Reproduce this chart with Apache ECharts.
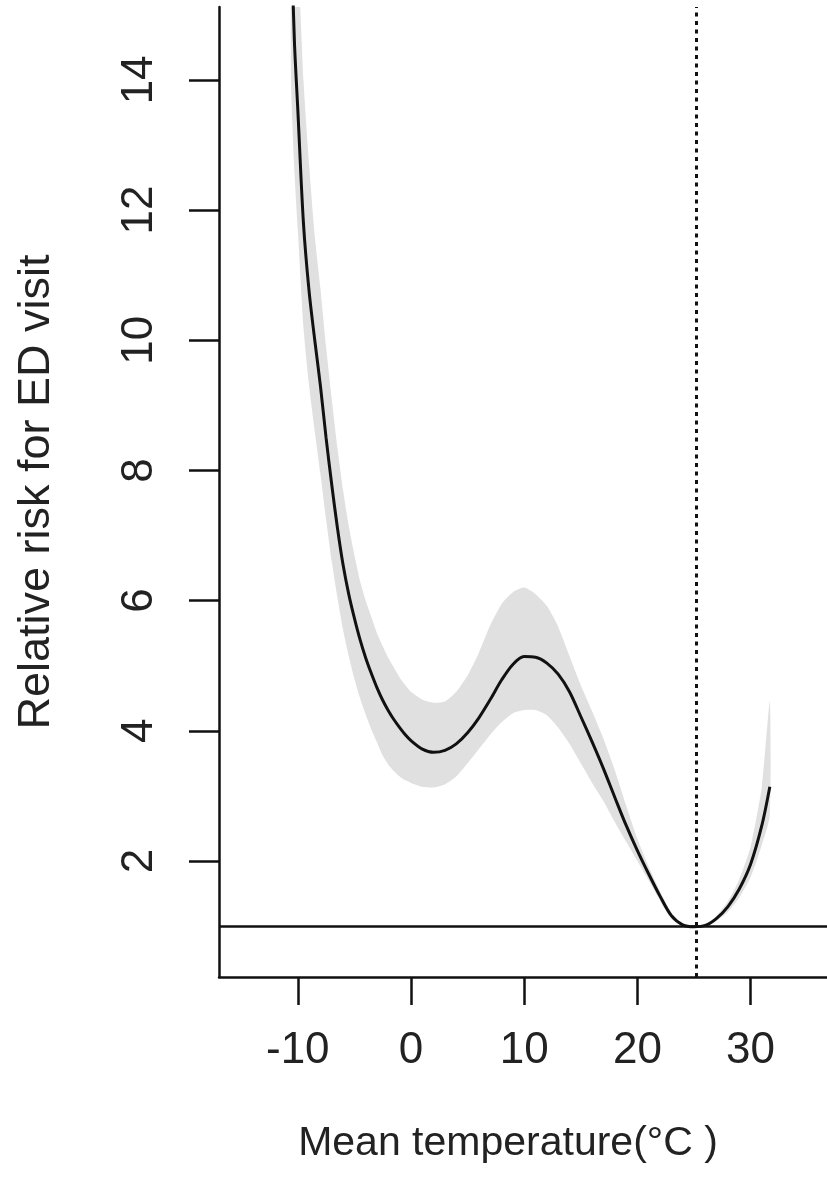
<!DOCTYPE html>
<html>
<head>
<meta charset="utf-8">
<script src="https://cdn.jsdelivr.net/npm/echarts@6/dist/echarts.min.js"></script>
<style>
  html, body { margin: 0; padding: 0; background: #fff; }
  #chart { width: 827px; height: 1188px; }
</style>
</head>
<body>
<div id="chart"></div>
<script>
// mean temperature (°C)
const temps = [-10.6, -10.3, -10, -9.5, -9, -8.5, -8, -7.5, -7, -6.5, -6, -5.5, -5, -4.5, -4, -3.5, -3, -2.5, -2, -1.5, -1, -0.5,
  0, 1, 2, 3, 4, 5, 6, 7, 8, 9, 10, 11, 12, 13, 14, 15, 16, 17, 18, 19, 20, 21, 22, 23, 24, 25, 26, 27, 28, 29, 30, 31, 31.7];
// relative risk (estimate)
const rr = [16.3, 14.6, 13.55, 11.8, 10.75, 10.0, 9.3, 8.5, 7.78, 7.12, 6.55, 6.1, 5.73, 5.4, 5.12, 4.88, 4.66, 4.47, 4.31, 4.17, 4.05, 3.94,
  3.85, 3.72, 3.67, 3.7, 3.8, 3.97, 4.2, 4.48, 4.78, 5.02, 5.14, 5.13, 5.04, 4.87, 4.6, 4.22, 3.83, 3.42, 2.98, 2.55, 2.16, 1.8, 1.46, 1.16, 1.02, 0.99, 1.01, 1.12, 1.3, 1.57, 1.95, 2.55, 3.14];
// 95% CI lower / upper
const rrLow = [14.0, 12.6, 11.7, 10.2, 9.3, 8.6, 7.95, 7.25, 6.6, 6.05, 5.55, 5.15, 4.8, 4.5, 4.25, 4.02, 3.82, 3.62, 3.48, 3.38, 3.3, 3.24,
  3.2, 3.14, 3.13, 3.18, 3.3, 3.5, 3.72, 3.94, 4.13, 4.27, 4.32, 4.32, 4.24, 4.05, 3.8, 3.5, 3.2, 2.92, 2.6, 2.3, 2.0, 1.7, 1.39, 1.11, 1.0, 0.99, 1.0, 1.08, 1.22, 1.44, 1.75, 2.25, 2.7];
const rrHigh = [18.5, 17.0, 16.0, 14.0, 12.7, 11.6, 10.8, 9.9, 9.1, 8.35, 7.7, 7.15, 6.7, 6.3, 6.0, 5.75, 5.5, 5.3, 5.12, 4.97, 4.82, 4.7,
  4.6, 4.48, 4.43, 4.45, 4.6, 4.85, 5.2, 5.62, 5.95, 6.13, 6.2, 6.1, 5.92, 5.6, 5.15, 4.7, 4.3, 3.88, 3.4, 2.86, 2.34, 1.91, 1.53, 1.21, 1.04, 1.0, 1.02, 1.16, 1.38, 1.72, 2.22, 3.15, 4.45];

const xTicks = [-10, 0, 10, 20, 30];
const yTicks = [2, 4, 6, 8, 10, 12, 14];
const refRisk = 1;
const mmt = 25.2;

const chart = echarts.init(document.getElementById('chart'));

const font = 'Liberation Sans, Arial, sans-serif';
const ink = '#111';

// 置信区间: 整条带画成一个多边形 (只在第一个数据项上画)
const renderBand = (params, api) => {
  if (params.dataIndex !== 0) return null;
  const upper = temps.map((t, i) => api.coord([t, rrHigh[i]]));
  const lower = temps.map((t, i) => api.coord([t, rrLow[i]])).reverse();
  return {
    type: 'polygon',
    shape: { points: upper.concat(lower), smooth: 0.2 },
    style: { fill: '#e0e0e0', stroke: null },
    clipPath: {
      type: 'rect',
      shape: { x: params.coordSys.x, y: params.coordSys.y, width: params.coordSys.width, height: params.coordSys.height }
    }
  };
};

chart.setOption({
  animation: false,
  backgroundColor: '#fff',
  grid: { left: 219, right: 0, top: 7, bottom: 211, containLabel: false },
  xAxis: {
    type: 'value',
    min: -16.96,
    max: 36.75,
    name: 'Mean temperature(°C )',
    nameLocation: 'middle',
    nameGap: 146,
    nameTextStyle: { fontFamily: font, fontSize: 41, color: '#222', padding: [0, 30, 0, 0] },
    axisLine: { show: true, onZero: false, lineStyle: { color: ink, width: 2.5 } },
    axisTick: { show: true, length: 28, customValues: xTicks, lineStyle: { color: ink, width: 2.5 } },
    axisLabel: { customValues: xTicks, margin: 52, fontFamily: font, fontSize: 44, color: '#222' },
    splitLine: { show: false }
  },
  yAxis: {
    type: 'value',
    min: 0.218,
    max: 15.12,
    name: 'Relative risk for ED visit',
    nameLocation: 'middle',
    nameGap: 160,
    nameTextStyle: { fontFamily: font, fontSize: 45, color: '#222' },
    axisLine: { show: true, onZero: false, lineStyle: { color: ink, width: 2.5 } },
    axisTick: { show: true, length: 30, customValues: yTicks, lineStyle: { color: ink, width: 2.5 } },
    axisLabel: { customValues: yTicks, rotate: 90, margin: 57, fontFamily: font, fontSize: 44, color: '#222' },
    splitLine: { show: false }
  },
  series: [
    {
      name: 'ci',
      type: 'custom',
      renderItem: renderBand,
      data: temps.map((t, i) => [t, rrLow[i], rrHigh[i]]),
      encode: { x: 0, y: [1, 2] },
      clip: true,
      silent: true,
      z: 1
    },
    {
      name: 'rr',
      type: 'line',
      data: temps.map((t, i) => [t, rr[i]]),
      symbol: 'none',
      smooth: 0.3,
      lineStyle: { color: ink, width: 3 },
      z: 5,
      markLine: {
        silent: true,
        symbol: 'none',
        label: { show: false },
        data: [
          { yAxis: refRisk, lineStyle: { color: ink, type: 'solid', width: 2.5 } },
          { xAxis: mmt, lineStyle: { color: ink, type: [4, 4.5], width: 3 } }
        ]
      }
    }
  ]
});
</script>
</body>
</html>
